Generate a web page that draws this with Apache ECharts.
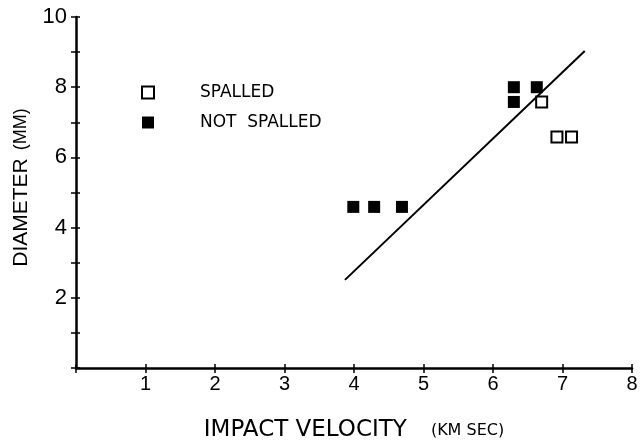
<!DOCTYPE html>
<html>
<head>
<meta charset="utf-8">
<script src="https://cdn.jsdelivr.net/npm/echarts@6/dist/echarts.min.js"></script>
<style>html,body{margin:0;padding:0;background:#fff}#c{width:643px;height:444px}</style>
</head>
<body>
<div id="c"></div>
<script>
var spalled = [[6.70, 7.58], [6.92, 6.58], [7.13, 6.58]];
var notSpalled = [[3.99, 4.59], [4.29, 4.59], [4.69, 4.59], [6.30, 8.00], [6.63, 8.00], [6.30, 7.58]];
var fitLine = [[3.87, 2.51], [7.32, 9.03]];
var xTickLabels = ['', '1', '2', '3', '4', '5', '6', '7', '8'];
var yTickLabels = ['', '', '2', '', '4', '', '6', '', '8', '', '10'];

var FONT = 'Liberation Sans';
var WIDE = 'DejaVu Sans';
var chart = echarts.init(document.getElementById('c'));
var axisLine = {show: true, onZero: false, lineStyle: {color: '#000', width: 2.5}};
chart.setOption({
  animation: false,
  backgroundColor: '#fff',
  grid: {left: 76, right: 11, top: 17, bottom: 76, containLabel: false, outerBoundsMode: 'none'},
  legend: {
    orient: 'vertical', left: 136, top: 79, itemWidth: 12, itemHeight: 12, itemGap: 13,
    textStyle: {fontFamily: WIDE, fontSize: 17, color: '#000', padding: [0, 0, 0, 41]},
    formatter: function (n) { return n.replace(' ', '  '); },
    data: [
      {name: 'SPALLED', icon: 'rect', itemStyle: {color: '#fff', borderColor: '#000', borderWidth: 2, opacity: 1}},
      {name: 'NOT SPALLED', icon: 'rect', itemStyle: {color: '#000', opacity: 1}}
    ]
  },
  xAxis: [{
    type: 'value', min: 0, max: 8, interval: 1, splitLine: {show: false},
    axisLine: axisLine,
    axisTick: {show: true, length: 5, lineStyle: {color: '#000', width: 1.5}},
    axisLabel: {margin: 6, fontFamily: FONT, fontSize: 20, color: '#000',
      formatter: function (v) { return xTickLabels[Math.round(v)]; }},
    name: '{a|IMPACT VELOCITY}{b|(KM SEC)}', nameLocation: 'middle', nameGap: 51,
    nameTextStyle: {rich: {a: {fontFamily: WIDE, fontSize: 23, color: '#000'}, b: {fontFamily: WIDE, fontSize: 16, color: '#000', padding: [0, 0, 0, 24]}}}
  }, {
    type: 'value', min: 0, max: 8, interval: 1, position: 'bottom', splitLine: {show: false},
    axisLine: {show: false}, axisLabel: {show: false},
    axisTick: {show: true, inside: true, length: 4, lineStyle: {color: '#000', width: 1.5}}
  }],
  yAxis: [{
    type: 'value', min: 0, max: 10, interval: 1, splitLine: {show: false},
    axisLine: axisLine,
    axisTick: {show: true, length: 5, lineStyle: {color: '#000', width: 1.5}},
    axisLabel: {margin: 9, fontFamily: FONT, fontSize: 22, color: '#000',
      formatter: function (v) { return yTickLabels[Math.round(v)]; }},
    name: '{a|DIAMETER}{b|(MM)}', nameLocation: 'middle', nameGap: 42,
    nameTextStyle: {padding: [0, 0, 0, 10], rich: {a: {fontFamily: FONT, fontSize: 21, color: '#000'}, b: {fontFamily: FONT, fontSize: 18, color: '#000', padding: [0, 0, 0, 8]}}}
  }, {
    type: 'value', min: 0, max: 10, interval: 1, position: 'left', splitLine: {show: false},
    axisLine: {show: false}, axisLabel: {show: false},
    axisTick: {show: true, inside: true, length: 4, lineStyle: {color: '#000', width: 1.5}}
  }],
  series: [{
    type: 'line', data: fitLine, symbol: 'none', silent: true,
    lineStyle: {color: '#000', width: 2}
  }, {
    name: 'SPALLED', type: 'scatter', data: spalled, symbol: 'rect', symbolSize: 11,
    itemStyle: {color: '#fff', borderColor: '#000', borderWidth: 2, opacity: 1}
  }, {
    name: 'NOT SPALLED', type: 'scatter', data: notSpalled, symbol: 'rect', symbolSize: 12,
    itemStyle: {color: '#000', opacity: 1}
  }]
});
</script>
</body>
</html>
